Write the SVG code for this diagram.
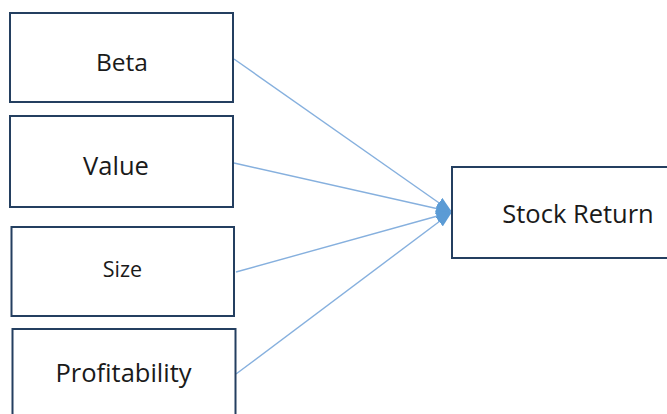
<svg xmlns="http://www.w3.org/2000/svg" width="667" height="414" viewBox="0 0 667 414">
  <style>
    .box { fill: #ffffff; stroke: #243f60; stroke-width: 2; }
    .label { font-family: "Open Sans", "Liberation Sans", sans-serif; fill: #1a1a1a; text-anchor: middle; }
    .link { stroke: #86b0de; stroke-width: 1.4; fill: none; marker-end: url(#head); }
  </style>
  <defs>
    <marker id="head" viewBox="0 0 16 12" refX="16" refY="6" markerWidth="16" markerHeight="12" markerUnits="userSpaceOnUse" orient="auto">
      <path d="M0,0 L16,6 L0,12 Z" fill="#5b9bd5"/>
    </marker>
  </defs>
  <rect width="667" height="414" fill="#ffffff"/>

  <g id="connectors">
    <line class="link" x1="234" y1="59" x2="452" y2="212"/>
    <line class="link" x1="234" y1="163" x2="452" y2="212"/>
    <line class="link" x1="236" y1="272" x2="452" y2="212"/>
    <line class="link" x1="236" y1="374" x2="452" y2="212"/>
  </g>

  <g id="beta">
    <rect class="box" x="10" y="13" width="223" height="89"/>
    <text class="label" x="122" y="71" font-size="24.5">Beta</text>
  </g>
  <g id="value">
    <rect class="box" x="10" y="116" width="223" height="91"/>
    <text class="label" x="116" y="175" font-size="25.5">Value</text>
  </g>
  <g id="size">
    <rect class="box" x="11.5" y="227" width="222.5" height="89"/>
    <text class="label" x="122.5" y="277" font-size="21.5">Size</text>
  </g>
  <g id="profitability">
    <rect class="box" x="12.5" y="329" width="223" height="95"/>
    <text class="label" x="123.5" y="382" font-size="25.5">Profitability</text>
  </g>
  <g id="stock-return">
    <rect class="box" x="452" y="167" width="225" height="91"/>
    <text class="label" x="578" y="223" font-size="25.5">Stock Return</text>
  </g>
</svg>
